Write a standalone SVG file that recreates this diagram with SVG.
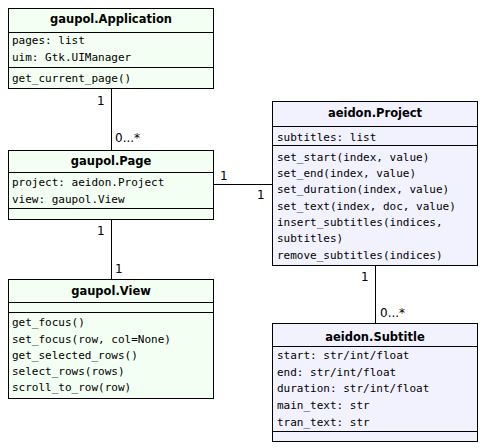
<svg xmlns="http://www.w3.org/2000/svg" width="486" height="448" viewBox="0 0 486 448">
  <style>
    .box { stroke: #000; stroke-width: 1; }
    .gaupol { fill: #f2fff2; }
    .aeidon { fill: #f2f2ff; }
    .sep { stroke: #000; stroke-width: 1; }
    .title { font-family: "DejaVu Sans", sans-serif; font-weight: bold; font-size: 11.5px; text-anchor: middle; fill: #000; }
    .mem { font-family: "DejaVu Sans Mono", "Liberation Mono", monospace; font-size: 11px; fill: #000; }
    .lbl { font-family: "DejaVu Sans", sans-serif; font-size: 12px; fill: #000; }
    .conn { stroke: #000; stroke-width: 1; fill: none; }
  </style>

  <g id="connectors">
    <line class="conn" x1="111.5" y1="88" x2="111.5" y2="150"/>
    <line class="conn" x1="111.5" y1="219" x2="111.5" y2="280"/>
    <line class="conn" x1="213" y1="184.5" x2="273" y2="184.5"/>
    <line class="conn" x1="375.5" y1="265" x2="375.5" y2="323"/>
    <text class="lbl" x="97" y="105">1</text>
    <text class="lbl" x="115" y="142">0...*</text>
    <text class="lbl" x="97" y="235">1</text>
    <text class="lbl" x="115" y="273">1</text>
    <text class="lbl" x="220" y="180">1</text>
    <text class="lbl" x="257" y="199">1</text>
    <text class="lbl" x="361" y="281">1</text>
    <text class="lbl" x="380" y="317">0...*</text>
  </g>

  <g id="gaupol-application">
    <rect class="box gaupol" x="8.5" y="8.5" width="205" height="80"/>
    <line class="sep" x1="8.5" y1="32.5" x2="213.5" y2="32.5"/>
    <line class="sep" x1="8.5" y1="67.5" x2="213.5" y2="67.5"/>
    <text class="title" x="111" y="23">gaupol.Application</text>
    <text class="mem" x="12" y="44">pages: list</text>
    <text class="mem" x="12" y="61">uim: Gtk.UIManager</text>
    <text class="mem" x="12" y="82">get_current_page()</text>
  </g>

  <g id="gaupol-page">
    <rect class="box gaupol" x="8.5" y="150.5" width="205" height="69"/>
    <line class="sep" x1="8.5" y1="172.5" x2="213.5" y2="172.5"/>
    <line class="sep" x1="8.5" y1="208.5" x2="213.5" y2="208.5"/>
    <text class="title" x="111" y="165">gaupol.Page</text>
    <text class="mem" x="12" y="186">project: aeidon.Project</text>
    <text class="mem" x="12" y="203">view: gaupol.View</text>
  </g>

  <g id="gaupol-view">
    <rect class="box gaupol" x="8.5" y="279.5" width="205" height="119"/>
    <line class="sep" x1="8.5" y1="302.5" x2="213.5" y2="302.5"/>
    <line class="sep" x1="8.5" y1="312.5" x2="213.5" y2="312.5"/>
    <text class="title" x="111" y="295">gaupol.View</text>
    <text class="mem" x="12" y="326">get_focus()</text>
    <text class="mem" x="12" y="342.5">set_focus(row, col=None)</text>
    <text class="mem" x="12" y="358.5">get_selected_rows()</text>
    <text class="mem" x="12" y="374.5">select_rows(rows)</text>
    <text class="mem" x="12" y="390.5">scroll_to_row(row)</text>
  </g>

  <g id="aeidon-project">
    <rect class="box aeidon" x="272.5" y="101.5" width="205" height="164"/>
    <line class="sep" x1="272.5" y1="126.5" x2="477.5" y2="126.5"/>
    <line class="sep" x1="272.5" y1="145.5" x2="477.5" y2="145.5"/>
    <text class="title" x="375" y="117">aeidon.Project</text>
    <text class="mem" x="277" y="140.5">subtitles: list</text>
    <text class="mem" x="277" y="161">set_start(index, value)</text>
    <text class="mem" x="277" y="177">set_end(index, value)</text>
    <text class="mem" x="277" y="193">set_duration(index, value)</text>
    <text class="mem" x="277" y="209.5">set_text(index, doc, value)</text>
    <text class="mem" x="277" y="226">insert_subtitles(indices,</text>
    <text class="mem" x="277" y="242">subtitles)</text>
    <text class="mem" x="277" y="258.5">remove_subtitles(indices)</text>
  </g>

  <g id="aeidon-subtitle">
    <rect class="box aeidon" x="272.5" y="323.5" width="205" height="118"/>
    <line class="sep" x1="272.5" y1="346.5" x2="477.5" y2="346.5"/>
    <line class="sep" x1="272.5" y1="431.5" x2="477.5" y2="431.5"/>
    <text class="title" x="375" y="341">aeidon.Subtitle</text>
    <text class="mem" x="277" y="359">start: str/int/float</text>
    <text class="mem" x="277" y="375.5">end: str/int/float</text>
    <text class="mem" x="277" y="391.5">duration: str/int/float</text>
    <text class="mem" x="277" y="409">main_text: str</text>
    <text class="mem" x="277" y="425.5">tran_text: str</text>
  </g>
</svg>
